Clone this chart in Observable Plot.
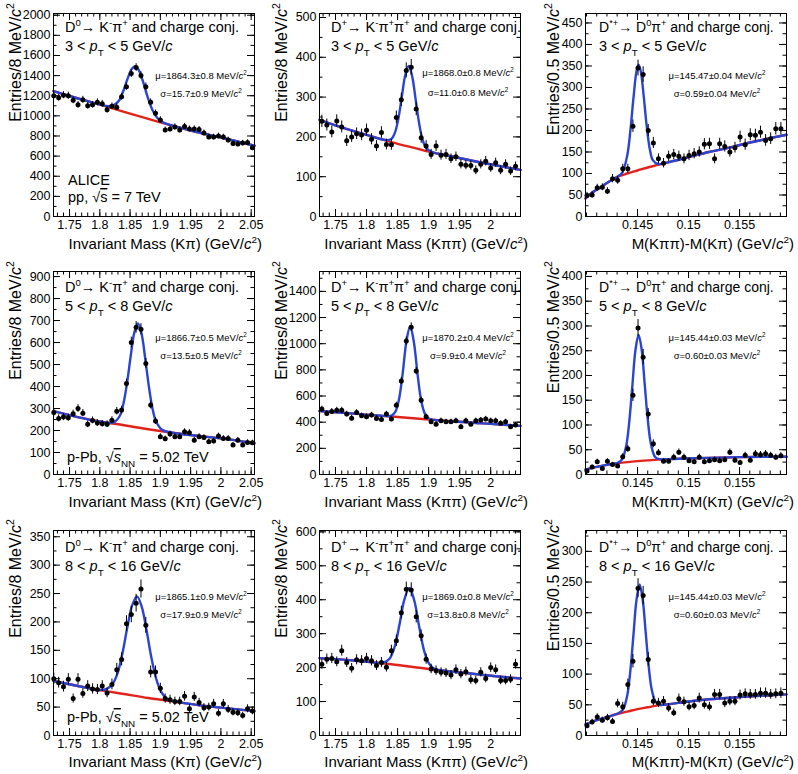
<!DOCTYPE html>
<html>
<head>
<meta charset="utf-8">
<script src="https://cdn.jsdelivr.net/npm/d3@7"></script>
<script src="https://cdn.jsdelivr.net/npm/@observablehq/plot@0.6"></script>
<style>
  body { margin: 0; background: #fff; }
  #grid { display: grid; grid-template-columns: repeat(3, 266px); grid-template-rows: repeat(3, 258px); width: 798px; }
  #grid svg { display: block; }
</style>
</head>
<body>
<div id="grid"></div>
<script>
// bin centres
const binsD0 = [1.724,1.732,1.740,1.748,1.756,1.764,1.772,1.780,1.788,1.796,1.804,1.812,1.820,1.828,1.836,1.844,1.852,1.860,1.868,1.876,1.884,1.892,1.900,1.908,1.916,1.924,1.932,1.940,1.948,1.956,1.964,1.972,1.980,1.988,1.996,2.004,2.012,2.020,2.028,2.036,2.044,2.052];
const binsDp = [1.728,1.736,1.744,1.752,1.760,1.768,1.776,1.784,1.792,1.800,1.808,1.816,1.824,1.832,1.840,1.848,1.856,1.864,1.872,1.880,1.888,1.896,1.904,1.912,1.920,1.928,1.936,1.944,1.952,1.960,1.968,1.976,1.984,1.992,2.000,2.008,2.016,2.024,2.032,2.040];
const binsDs = [0.14005,0.14055,0.14105,0.14155,0.14205,0.14255,0.14305,0.14355,0.14405,0.14455,0.14505,0.14555,0.14605,0.14655,0.14705,0.14755,0.14805,0.14855,0.14905,0.14955,0.15005,0.15055,0.15105,0.15155,0.15205,0.15255,0.15305,0.15355,0.15405,0.15455,0.15505,0.15555,0.15605,0.15655,0.15705,0.15755,0.15805,0.15855,0.15905];

// tick labels
const ticksD0 = [1.75,1.8,1.85,1.9,1.95,2,2.05];
const ticksDp = [1.75,1.8,1.85,1.9,1.95,2];
const ticksDs = [0.145,0.15,0.155];

// D0, pp 3-5
const p1Counts = [1200,1180,1205,1200,1155,1110,1160,1100,1110,1135,1120,1060,1095,1085,1190,1290,1420,1480,1400,1290,1135,1025,960,860,870,890,860,895,870,870,865,830,790,790,800,790,760,725,720,730,735,683];
const p1Errors = [35,34,35,35,34,33,34,33,33,34,33,33,33,33,34,36,38,38,37,36,34,32,31,29,29,30,29,30,29,29,29,29,28,28,28,28,28,27,27,27,27,26];
const p1FitX = [1.7235,1.76,1.80,1.814,1.823,1.8315,1.839,1.8465,1.853,1.859,1.865,1.8715,1.879,1.8865,1.895,1.904,1.92,1.96,2.00,2.0555];
const p1FitY = [1245,1180,1112,1095,1106,1150,1250,1380,1468,1492,1447,1338,1187,1064,979,937,902,840,785,703];
const p1BgX = [1.7235,1.76,1.80,1.84,1.88,1.92,1.96,2.00,2.0555];
const p1BgY = [1245,1180,1112,1040,970,902,840,785,703];
const p1YTicks = [0,200,400,600,800,1000,1200,1400,1600,1800,2000];

// D+, pp 3-5
const p2Counts = [239,230,212,240,225,190,200,208,205,217,194,177,211,181,180,249,293,367,375,270,198,177,156,177,154,156,145,150,131,129,128,116,131,139,122,135,116,131,114,126];
const p2Errors = [15.5,15,14.5,15.5,15,14,14,14.5,14.5,15,14,13.5,14.5,13.5,13.5,16,17,19,19.5,16.5,14,13.5,12.5,13.5,12.5,12.5,12,12,11.5,11.5,11.5,11,11.5,12,11,11.5,11,11.5,10.5,11];
const p2FitX = [1.7242,1.76,1.80,1.832,1.840,1.846,1.8515,1.857,1.8625,1.868,1.8735,1.879,1.8845,1.890,1.896,1.904,1.94,1.98,2.048];
const p2FitY = [243,224,205,192,195,212,248,303,356,378,352,295,236,194,173,163,150,137,117];
const p2BgX = [1.7242,1.76,1.80,1.84,1.88,1.90,1.94,1.98,2.048];
const p2BgY = [243,224,205,187,171,163,150,137,117];
const p2YTicks = [0,100,200,300,400,500];

// D*+, pp 3-5
const p3Counts = [49,50,67,68,59,88,84,111,111,210,345,330,200,171,134,124,140,144,140,134,142,146,150,168,169,134,169,163,150,160,185,167,190,189,196,177,181,204,204];
const p3Errors = [7,7,8,8,8,9.5,9,10.5,10.5,14.5,18.5,18,14,13,11.5,11,12,12,12,11.5,12,12,12,13,13,11.5,13,13,12,12.5,13.5,13,14,14,14,13.5,13.5,14.5,14.5];
const p3FitX = [0.1399,0.1405,0.141,0.142,0.143,0.1435,0.144,0.1443,0.1446,0.1449,0.1451,0.1453,0.1456,0.1459,0.1462,0.1465,0.147,0.148,0.150,0.152,0.154,0.156,0.1596];
const p3FitY = [42,55,62,78,92,102,143,200,275,338,353,340,281,210,157,131,122,126,138,150,160,172,190];
const p3BgX = [0.1399,0.1405,0.141,0.142,0.143,0.144,0.145,0.146,0.147,0.148,0.150,0.152,0.154,0.156,0.1596];
const p3BgY = [42,55,62,78,92,100,107,114,120,126,138,150,160,172,190];
const p3YTicks = [0,50,100,150,200,250,300,350,400,450];

// D0, p-Pb 5-8
const p4Counts = [282,255,261,258,276,300,279,228,246,234,231,229,247,288,293,414,600,669,660,505,316,243,172,162,184,172,172,194,190,156,172,168,149,152,175,164,164,134,156,134,146,144];
const p4Errors = [17,16,16,16,16.5,17.5,16.5,15,15.5,15.5,15,15,15.5,17,17,20,24.5,26,25.5,22.5,18,15.5,13,12.5,13.5,13,13,14,14,12.5,13,13,12,12,13,13,13,11.5,12.5,11.5,12,12];
const p4FitX = [1.7235,1.76,1.80,1.823,1.833,1.839,1.845,1.851,1.857,1.863,1.869,1.875,1.881,1.887,1.893,1.903,1.92,1.96,2.00,2.0555];
const p4FitY = [288,263,241,237,267,322,417,538,645,687,640,527,401,300,241,203,190,176,164,142];
const p4BgX = [1.7235,1.76,1.80,1.84,1.88,1.92,1.96,2.00,2.0555];
const p4BgY = [288,263,241,224,206,190,176,164,142];
const p4YTicks = [0,100,200,300,400,500,600,700,800,900];

// D+, p-Pb 5-8
const p5Counts = [500,467,482,492,492,462,431,474,449,441,454,429,421,462,424,530,715,1020,1126,791,568,441,403,385,411,403,403,411,365,411,385,411,416,424,411,411,391,403,365,378];
const p5Errors = [22.5,21.5,22,22,22,21.5,21,22,21,21,21.5,20.5,20.5,21.5,20.5,23,27,32,33.5,28,24,21,20,19.5,20,20,20,20,19,20,19.5,20,20.5,20.5,20,20,20,20,19,19.5];
const p5FitX = [1.7242,1.78,1.82,1.8402,1.8462,1.8522,1.8582,1.8642,1.8702,1.8762,1.8822,1.8882,1.8942,1.9002,1.96,2.00,2.048];
const p5FitY = [485,465,451,450,478,573,773,1017,1133,1013,765,561,462,428,400,387,372];
const p5BgX = [1.7242,1.78,1.84,1.90,1.96,2.00,2.048];
const p5BgY = [485,465,443,421,400,387,372];
const p5YTicks = [0,200,400,600,800,1000,1200,1400];

// D*+, p-Pb 5-8
const p6Counts = [7,15,26,12,27,20,17,36,52,160,296,237,122,62,44,27,27,35,45,35,28,26,35,26,28,30,28,30,45,29,24,39,29,42,40,42,39,35,38];
const p6Errors = [3,4,5,3.5,5,4.5,4,6,7,12.5,17,15.5,11,8,6.5,5,5,6,6.5,6,5.5,5,6,5,5.5,5.5,5.5,5.5,6.5,5.5,5,6,5.5,6.5,6.5,6.5,6,6,6];
const p6FitX = [0.1399,0.1405,0.141,0.142,0.1431,0.1435,0.1439,0.1442,0.1445,0.1448,0.1451,0.1454,0.1457,0.146,0.1463,0.1467,0.1471,0.148,0.150,0.152,0.155,0.1596];
const p6FitY = [10,13,15.5,19.5,24,31,59,109,181,252,282,253,183,112,63,36,31,31,32.5,33.5,35,36];
const p6BgX = [0.1399,0.1405,0.141,0.142,0.143,0.144,0.145,0.146,0.147,0.148,0.150,0.152,0.155,0.1596];
const p6BgY = [10,13,15.5,19.5,22.5,25,27,28.5,30,31,32.5,33.5,35,36];
const p6YTicks = [0,50,100,150,200,250,300,350,400];

// D0, p-Pb 8-16
const p7Counts = [100,93,86,99,65,99,74,87,82,81,87,75,90,116,134,197,213,233,258,194,112,112,83,65,63,60,60,69,47,68,58,49,50,56,39,56,46,41,40,35,47,43];
const p7Errors = [10,9.5,9.5,10,8,10,8.5,9.5,9,9,9.5,8.5,9.5,11,11.5,14,14.5,15.5,16,14,10.5,10.5,9,8,8,7.5,7.5,8.5,7,8,7.5,7,7,7.5,6.5,7.5,7,6.5,6.5,6,7,6.5];
const p7FitX = [1.7235,1.76,1.80,1.8114,1.8214,1.8294,1.8374,1.8454,1.8534,1.8614,1.8694,1.8774,1.8854,1.8934,1.9014,1.9114,1.92,1.96,2.00,2.0555];
const p7FitY = [96,88,80,82,91.5,110,145,190,229,245,226,184,136,99,77,64,61,54,49,43];
const p7BgX = [1.7235,1.76,1.80,1.84,1.88,1.92,1.96,2.00,2.0555];
const p7BgY = [96,88,80,73,66,60,54,49,43];
const p7YTicks = [0,50,100,150,200,250,300,350];

// D+, p-Pb 8-16
const p8Counts = [210,225,227,217,250,215,198,223,220,227,220,206,215,201,250,279,362,431,429,350,294,225,196,191,186,184,178,194,181,188,164,162,186,168,200,194,162,162,166,210];
const p8Errors = [14.5,15,15,14.5,16,14.5,14,15,15,15,15,14.5,14.5,14,16,17,19,21,21,18.5,17,15,14,14,13.5,13.5,13.5,14,13.5,13.5,13,12.5,13.5,13,14,14,12.5,12.5,13,14.5];
const p8FitX = [1.7242,1.78,1.82,1.829,1.837,1.845,1.853,1.861,1.869,1.877,1.885,1.893,1.901,1.909,1.96,2.00,2.048];
const p8FitY = [228,221,214,216,226,260,326,401,435,397,318,248,211,197,184,176,168];
const p8BgX = [1.7242,1.78,1.84,1.90,1.96,2.00,2.048];
const p8BgY = [228,221,210,196,184,176,168];
const p8YTicks = [0,100,200,300,400,500,600];

// D*+, p-Pb 8-16
const p9Counts = [16,22,30,25,29,23,52,47,83,121,240,228,124,56,53,56,45,37,60,55,47,49,61,50,47,67,67,53,56,56,66,68,67,67,69,69,67,68,69];
const p9Errors = [4,4.5,5.5,5,5.5,5,7,7,9,11,15.5,15,11,7.5,7.5,7.5,7,6,7.5,7.5,7,7,8,7,7,8,8,7.5,7.5,7.5,8,8,8,8,8.5,8.5,8,8,8.5];
const p9FitX = [0.1399,0.1405,0.141,0.142,0.1432,0.1436,0.144,0.1443,0.1446,0.1449,0.1452,0.1455,0.1458,0.1461,0.1464,0.1468,0.1472,0.148,0.150,0.152,0.155,0.1596];
const p9FitY = [18,22,25,30,37,43,66,106,164,221,246,222,168,112,74,54,50,51,55.5,59,62.5,67];
const p9BgX = [0.1399,0.1405,0.141,0.142,0.143,0.144,0.145,0.146,0.147,0.148,0.150,0.152,0.155,0.1596];
const p9BgY = [18,22,25,30,35,39,43,46,49,51,55.5,59,62.5,67];
const p9YTicks = [0,50,100,150,200,250,300];

const ptRanges = [["3", "5"], ["5", "8"], ["8", "16"]];
const muText = ["1864.3±0.8", "1868.0±0.8", "145.47±0.04", "1866.7±0.5", "1870.2±0.4", "145.44±0.03", "1865.1±0.9", "1869.0±0.8", "145.44±0.03"];
const sigmaText = ["15.7±0.9", "11.0±0.8", "0.59±0.04", "13.5±0.5", "9.9±0.4", "0.60±0.03", "17.9±0.9", "13.8±0.8", "0.60±0.03"];

const FONT = "'Liberation Sans', Arial, Helvetica, sans-serif";
const BLUE = "#2b44d2";
const RED = "#e2231c";

const kinds = {
  D0: {bins: binsD0, xDomain: [1.7235, 2.0555], xTicks: ticksD0, minor: [1.72, 2.06, 0.01],
       header: ["D", ["0", "^"], "→ K", ["-", "^"], "π", ["+", "^"], " and charge conj."],
       xTitle: ["Invariant Mass (Kπ) (GeV/", ["c", "i"], ["2", "^"], ")"],
       yTitle: ["Entries/8 MeV/", ["c", "i"], ["2", "^"]], yTitleX: 21, textX: 65, muX: 201},
  Dp: {bins: binsDp, xDomain: [1.7242, 2.048], xTicks: ticksDp, minor: [1.72, 2.06, 0.01],
       header: ["D", ["+", "^"], "→ K", ["-", "^"], "π", ["+", "^"], "π", ["+", "^"], " and charge conj."],
       xTitle: ["Invariant Mass (Kππ) (GeV/", ["c", "i"], ["2", "^"], ")"],
       yTitle: ["Entries/8 MeV/", ["c", "i"], ["2", "^"]], yTitleX: 21, textX: 65, muX: 202},
  Ds: {bins: binsDs, xDomain: [0.1399, 0.1596], xTicks: ticksDs, minor: [0.140, 0.1605, 0.001],
       header: ["D", ["*+", "^"], "→ D", ["0", "^"], "π", ["+", "^"], " and charge conj."],
       xTitle: ["M(Kππ)-M(Kπ) (GeV/", ["c", "i"], ["2", "^"], ")"],
       yTitle: ["Entries/0.5 MeV/", ["c", "i"], ["2", "^"]], yTitleX: 27, textX: 67, muX: 185, hdrSize: 14}
};

const panels = [
  {kind: "D0", counts: p1Counts, errors: p1Errors, fitX: p1FitX, fitY: p1FitY, bgX: p1BgX, bgY: p1BgY, yTicks: p1YTicks, yMax: 2017, extra: "pp"},
  {kind: "Dp", counts: p2Counts, errors: p2Errors, fitX: p2FitX, fitY: p2FitY, bgX: p2BgX, bgY: p2BgY, yTicks: p2YTicks, yMax: 510},
  {kind: "Ds", counts: p3Counts, errors: p3Errors, fitX: p3FitX, fitY: p3FitY, bgX: p3BgX, bgY: p3BgY, yTicks: p3YTicks, yMax: 472},
  {kind: "D0", counts: p4Counts, errors: p4Errors, fitX: p4FitX, fitY: p4FitY, bgX: p4BgX, bgY: p4BgY, yTicks: p4YTicks, yMax: 923, extra: "pPb"},
  {kind: "Dp", counts: p5Counts, errors: p5Errors, fitX: p5FitX, fitY: p5FitY, bgX: p5BgX, bgY: p5BgY, yTicks: p5YTicks, yMax: 1552},
  {kind: "Ds", counts: p6Counts, errors: p6Errors, fitX: p6FitX, fitY: p6FitY, bgX: p6BgX, bgY: p6BgY, yTicks: p6YTicks, yMax: 410},
  {kind: "D0", counts: p7Counts, errors: p7Errors, fitX: p7FitX, fitY: p7FitY, bgX: p7BgX, bgY: p7BgY, yTicks: p7YTicks, yMax: 361, extra: "pPb"},
  {kind: "Dp", counts: p8Counts, errors: p8Errors, fitX: p8FitX, fitY: p8FitY, bgX: p8BgX, bgY: p8BgY, yTicks: p8YTicks, yMax: 604},
  {kind: "Ds", counts: p9Counts, errors: p9Errors, fitX: p9FitX, fitY: p9FitY, bgX: p9BgX, bgY: p9BgY, yTicks: p9YTicks, yMax: 334}
];

// text baselines per row
const rowText = [
  {hdr: 32, pt: 51, mu: 79, sig: 97, xt: 249, extra: [185, 202]},
  {hdr: 34, pt: 53, mu: 83, sig: 101, xt: 249, extra: [null, 204]},
  {hdr: 36, pt: 55, mu: 84, sig: 102, xt: 251, extra: [null, 206]}
];

function rich(sel, x, y, parts, {size = 14.5, anchor = "start", rotate = 0} = {}) {
  const t = sel.append("text")
    .attr("x", x).attr("y", y)
    .attr("font-family", FONT).attr("font-size", size)
    .attr("text-anchor", anchor).attr("fill", "#000").attr("stroke", "none");
  if (rotate) t.attr("transform", `rotate(${rotate} ${x} ${y})`);
  for (const part of parts) {
    const [str, fl] = Array.isArray(part) ? part : [part, ""];
    const ts = t.append("tspan").text(str);
    if (fl.includes("i")) ts.attr("font-style", "italic");
    if (fl.includes("^")) ts.attr("font-size", size * 0.66).attr("baseline-shift", size * 0.42);
    if (fl.includes("_")) ts.attr("font-size", size * 0.68).attr("baseline-shift", -size * 0.32);
    if (fl.includes("o")) ts.attr("text-decoration", "overline");
  }
  return t;
}

const grid = d3.select("#grid");

panels.forEach((p, idx) => {
  const k = kinds[p.kind];
  const row = Math.floor(idx / 3);
  const W = 266, H = 258, ml = 53, mr = 12;
  const [mt, mb] = row === 2 ? [14, 39] : [13, 42];
  const pw = W - ml - mr, ph = H - mt - mb;

  const pts = k.bins.map((x, i) => ({x, y: p.counts[i], e: p.errors[i]}));
  const fit = p.fitX.map((x, i) => ({x, y: p.fitY[i]}));
  const bg = p.bgX.map((x, i) => ({x, y: p.bgY[i]}));

  const inX = v => v > k.xDomain[0] + 1e-9 && v < k.xDomain[1] - 1e-9;
  const xMinor = d3.range(...k.minor).filter(inX);
  const yStep = p.yTicks[1] - p.yTicks[0];
  const yMinor = d3.range(0, p.yMax, yStep / 2).filter(v => v > 0);

  const svg = Plot.plot({
    width: W, height: H,
    marginLeft: ml, marginRight: mr, marginTop: mt, marginBottom: mb,
    style: {fontFamily: FONT, fontSize: "12px", background: "#fff", color: "#000", overflow: "visible"},
    x: {domain: k.xDomain},
    y: {domain: [0, p.yMax]},
    marks: [
      Plot.tickX(xMinor, {x: d => d, insetTop: ph - 3.5, stroke: "#000"}),
      Plot.tickX(xMinor, {x: d => d, insetBottom: ph - 3.5, stroke: "#000"}),
      Plot.tickX(k.xTicks, {x: d => d, insetTop: ph - 7, stroke: "#000"}),
      Plot.tickX(k.xTicks, {x: d => d, insetBottom: ph - 7, stroke: "#000"}),
      Plot.tickY(yMinor, {y: d => d, insetRight: pw - 3.5, stroke: "#000"}),
      Plot.tickY(yMinor, {y: d => d, insetLeft: pw - 3.5, stroke: "#000"}),
      Plot.tickY(p.yTicks, {y: d => d, insetRight: pw - 7, stroke: "#000"}),
      Plot.tickY(p.yTicks, {y: d => d, insetLeft: pw - 7, stroke: "#000"}),
      Plot.axisX({ticks: k.xTicks, tickSize: 0, tickPadding: 4, tickFormat: d => String(d), label: null, fontSize: 12.5}),
      Plot.axisY({ticks: p.yTicks, tickSize: 0, tickPadding: 3, tickFormat: d => String(d), label: null, fontSize: 12.5}),
      Plot.line(bg, {x: "x", y: "y", stroke: RED, strokeWidth: 2.4, curve: "catmull-rom"}),
      Plot.line(fit, {x: "x", y: "y", stroke: BLUE, strokeWidth: 2.4, curve: "catmull-rom"}),
      Plot.ruleX(pts, {x: "x", y1: d => d.y - d.e, y2: d => d.y + d.e, stroke: "#000", strokeWidth: 1}),
      Plot.dot(pts, {x: "x", y: "y", r: 2.5, fill: "#000", stroke: "none"}),
      Plot.frame({stroke: "#000", strokeWidth: 1})
    ]
  });

  const s = d3.select(svg);
  const rt = rowText[row];
  const [lo, hi] = ptRanges[row];

  rich(s, k.textX, rt.hdr, k.header, {size: k.hdrSize || 14.5});
  rich(s, k.textX, rt.pt, [`${lo} < `, ["p", "i"], ["T", "_"], ` < ${hi} GeV/`, ["c", "i"]], {size: 14.5});

  const muY = idx === 1 ? 76 : rt.mu;
  const sigY = idx === 1 ? 96 : rt.sig;
  rich(s, k.muX, muY, [`μ=${muText[idx]} MeV/`, ["c", "i"], ["2", "^"]], {size: 9.5, anchor: "middle"});
  rich(s, k.muX, sigY, [`σ=${sigmaText[idx]} MeV/`, ["c", "i"], ["2", "^"]], {size: 9.5, anchor: "middle"});

  rich(s, 262, rt.xt, k.xTitle, {size: 15, anchor: "end"});
  rich(s, k.yTitleX, 3, k.yTitle, {size: 16, anchor: "end", rotate: -90});

  if (p.extra === "pp") {
    rich(s, 68, rt.extra[0], ["ALICE"], {size: 14.5});
    rich(s, 68, rt.extra[1], ["pp, √", ["s", "o"], " = 7 TeV"], {size: 14.5});
  } else if (p.extra === "pPb") {
    rich(s, 67, rt.extra[1], ["p-Pb, √", ["s", "io"], ["NN", "_"], " = 5.02 TeV"], {size: 14.5});
  }

  grid.append(() => svg);
});
</script>
</body>
</html>
